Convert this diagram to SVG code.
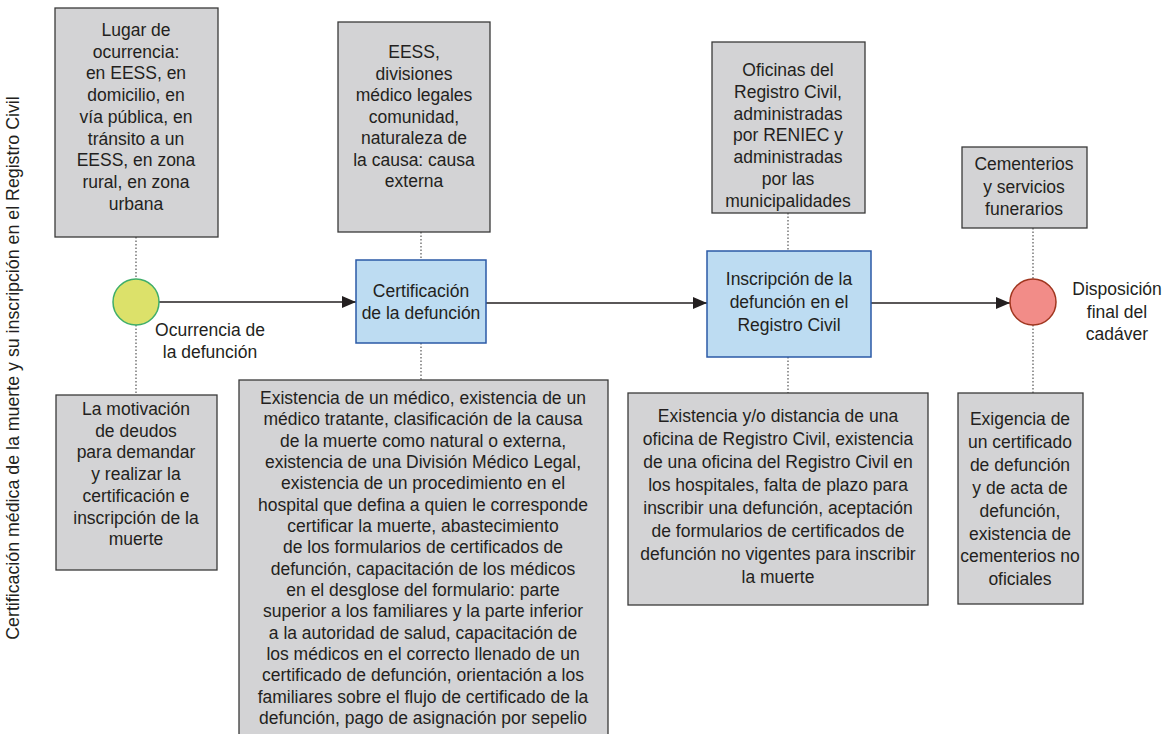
<svg xmlns="http://www.w3.org/2000/svg" width="1165" height="734" viewBox="0 0 1165 734">
<style>
text{font-family:"Liberation Sans",Arial,sans-serif;font-size:17.5px;fill:#231f20;text-anchor:middle}
.g{fill:#d3d3d5;stroke:#3a3a3a;stroke-width:1.3}
.b{fill:#bddcf2;stroke:#2b5aa6;stroke-width:1.5}
.d{stroke:#555;stroke-width:1.2;stroke-dasharray:1.5 2;fill:none}
.a{stroke:#231f20;stroke-width:1.5;fill:none;marker-end:url(#ah)}
</style>
<defs>
<marker id="ah" viewBox="0 0 14 12" refX="14" refY="6" markerWidth="14" markerHeight="12" markerUnits="userSpaceOnUse" orient="auto">
<path d="M0,0 L14,6 L0,12 z" fill="#231f20"/>
</marker>
</defs>
<rect width="1165" height="734" fill="#fff"/>
<text transform="translate(19,368) rotate(-90)" style="font-size:17.8px">Certificación médica de la muerte y su inscripción en el Registro Civil</text>

<g id="connectors">
<line class="a" x1="159" y1="302" x2="356" y2="302"/>
<line class="a" x1="486" y1="303" x2="707" y2="303"/>
<line class="a" x1="871" y1="303" x2="1010" y2="303"/>
<line class="d" x1="136" y1="237" x2="136" y2="279"/>
<line class="d" x1="136" y1="325" x2="136" y2="395"/>
<line class="d" x1="421" y1="232" x2="421" y2="260"/>
<line class="d" x1="421" y1="343" x2="421" y2="380"/>
<line class="d" x1="788" y1="213" x2="788" y2="251"/>
<line class="d" x1="788" y1="357" x2="788" y2="393"/>
<line class="d" x1="1033" y1="228" x2="1033" y2="279"/>
<line class="d" x1="1033" y1="325" x2="1033" y2="393"/>
</g>

<g id="boxA">
<rect class="g" x="55" y="8" width="163" height="229"/>
<text x="136" y="36"><tspan x="136">Lugar de</tspan><tspan x="136" dy="21.7">ocurrencia:</tspan><tspan x="136" dy="21.7">en EESS, en</tspan><tspan x="136" dy="21.7">domicilio, en</tspan><tspan x="136" dy="21.7">vía pública, en</tspan><tspan x="136" dy="21.7">tránsito a un</tspan><tspan x="136" dy="21.7">EESS, en zona</tspan><tspan x="136" dy="21.7">rural, en zona</tspan><tspan x="136" dy="21.7">urbana</tspan></text>
</g>

<g id="boxB">
<rect class="g" x="338" y="22" width="152" height="210"/>
<text x="414" y="58"><tspan x="414">EESS,</tspan><tspan x="414" dy="21.5">divisiones</tspan><tspan x="414" dy="21.5">médico legales</tspan><tspan x="414" dy="21.5">comunidad,</tspan><tspan x="414" dy="21.5">naturaleza de</tspan><tspan x="414" dy="21.5">la causa: causa</tspan><tspan x="414" dy="21.5">externa</tspan></text>
</g>

<g id="boxC">
<rect class="g" x="712" y="42" width="153" height="171"/>
<text x="788" y="76"><tspan x="788">Oficinas del</tspan><tspan x="788" dy="21.8">Registro Civil,</tspan><tspan x="788" dy="21.8">administradas</tspan><tspan x="788" dy="21.8">por RENIEC y</tspan><tspan x="788" dy="21.8">administradas</tspan><tspan x="788" dy="21.8">por las</tspan><tspan x="788" dy="21.8">municipalidades</tspan></text>
</g>

<g id="boxD">
<rect class="g" x="962" y="147" width="125" height="81"/>
<text x="1024" y="170"><tspan x="1024">Cementerios</tspan><tspan x="1024" dy="22.5">y servicios</tspan><tspan x="1024" dy="22.5">funerarios</tspan></text>
</g>

<g id="start">
<circle cx="136" cy="302" r="23" fill="#dce16a" stroke="#3fae6a" stroke-width="1.5"/>
<text x="210" y="336"><tspan x="210">Ocurrencia de</tspan><tspan x="210" dy="22">la defunción</tspan></text>
</g>

<g id="cert">
<rect class="b" x="356" y="260" width="130" height="83"/>
<text x="421" y="297"><tspan x="421">Certificación</tspan><tspan x="421" dy="21.5">de la defunción</tspan></text>
</g>

<g id="insc">
<rect class="b" x="707" y="251" width="164" height="106"/>
<text x="789" y="285"><tspan x="789">Inscripción de la</tspan><tspan x="789" dy="23">defunción en el</tspan><tspan x="789" dy="23">Registro Civil</tspan></text>
</g>

<g id="end">
<circle cx="1033" cy="302" r="23" fill="#f28c88" stroke="#a0361f" stroke-width="1.5"/>
<text x="1117" y="295"><tspan x="1117">Disposición</tspan><tspan x="1117" dy="22.5">final del</tspan><tspan x="1117" dy="22.5">cadáver</tspan></text>
</g>

<g id="boxE">
<rect class="g" x="56" y="395" width="161" height="175"/>
<text x="136" y="415"><tspan x="136">La motivación</tspan><tspan x="136" dy="21.7">de deudos</tspan><tspan x="136" dy="21.7">para demandar</tspan><tspan x="136" dy="21.7">y realizar la</tspan><tspan x="136" dy="21.7">certificación e</tspan><tspan x="136" dy="21.7">inscripción de la</tspan><tspan x="136" dy="21.7">muerte</tspan></text>
</g>

<g id="boxF">
<rect class="g" x="239" y="380" width="369" height="360"/>
<text x="423" y="404"><tspan x="423">Existencia de un médico, existencia de un</tspan><tspan x="423" dy="21.33">médico tratante, clasificación de la causa</tspan><tspan x="423" dy="21.33">de la muerte como natural o externa,</tspan><tspan x="423" dy="21.33">existencia de una División Médico Legal,</tspan><tspan x="423" dy="21.33">existencia de un procedimiento en el</tspan><tspan x="423" dy="21.33">hospital que defina a quien le corresponde</tspan><tspan x="423" dy="21.33">certificar la muerte, abastecimiento</tspan><tspan x="423" dy="21.33">de los formularios de certificados de</tspan><tspan x="423" dy="21.33">defunción, capacitación de los médicos</tspan><tspan x="423" dy="21.33">en el desglose del formulario: parte</tspan><tspan x="423" dy="21.33">superior a los familiares y la parte inferior</tspan><tspan x="423" dy="21.33">a la autoridad de salud, capacitación de</tspan><tspan x="423" dy="21.33">los médicos en el correcto llenado de un</tspan><tspan x="423" dy="21.33">certificado de defunción, orientación a los</tspan><tspan x="423" dy="21.33">familiares sobre el flujo de certificado de la</tspan><tspan x="423" dy="21.33">defunción, pago de asignación por sepelio</tspan></text>
</g>

<g id="boxG">
<rect class="g" x="628" y="393" width="300" height="212"/>
<text x="778" y="422"><tspan x="778">Existencia y/o distancia de una</tspan><tspan x="778" dy="23">oficina de Registro Civil, existencia</tspan><tspan x="778" dy="23">de una oficina del Registro Civil en</tspan><tspan x="778" dy="23">los hospitales, falta de plazo para</tspan><tspan x="778" dy="23">inscribir una defunción, aceptación</tspan><tspan x="778" dy="23">de formularios de certificados de</tspan><tspan x="778" dy="23">defunción no vigentes para inscribir</tspan><tspan x="778" dy="23">la muerte</tspan></text>
</g>

<g id="boxH">
<rect class="g" x="958" y="393" width="125" height="211"/>
<text x="1020" y="425"><tspan x="1020">Exigencia de</tspan><tspan x="1020" dy="22.9">un certificado</tspan><tspan x="1020" dy="22.9">de defunción</tspan><tspan x="1020" dy="22.9">y de acta de</tspan><tspan x="1020" dy="22.9">defunción,</tspan><tspan x="1020" dy="22.9">existencia de</tspan><tspan x="1020" dy="22.9">cementerios no</tspan><tspan x="1020" dy="22.9">oficiales</tspan></text>
</g>
</svg>
